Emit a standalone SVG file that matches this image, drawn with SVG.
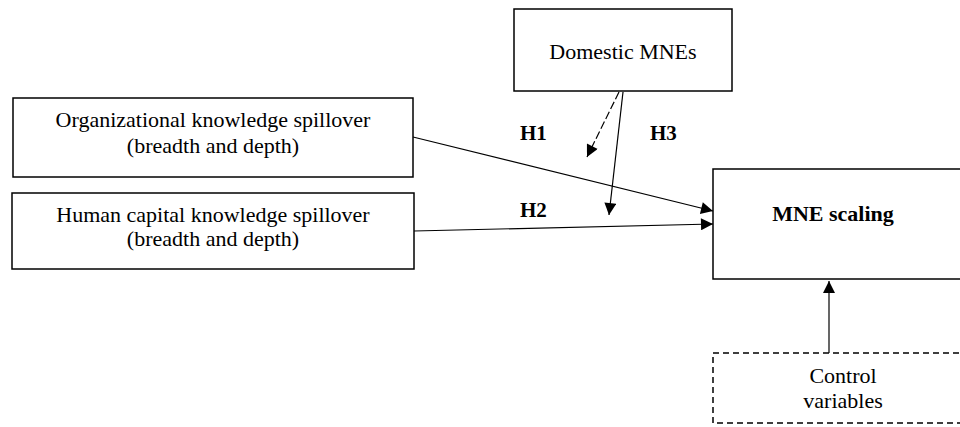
<svg xmlns="http://www.w3.org/2000/svg" width="960" height="427" viewBox="0 0 960 427">
<style>
.box{fill:#fff;stroke:#000;stroke-width:1.5}
.dbox{fill:#fff;stroke:#000;stroke-width:1.5;stroke-dasharray:6,4}
.t{font-family:"Liberation Serif","Times New Roman",serif;font-size:22px;fill:#000;text-anchor:middle}
.b{font-weight:bold}
.h{font-family:"Liberation Serif","Times New Roman",serif;font-size:21px;font-weight:bold;fill:#000}
.c{stroke:#000;stroke-width:1.2;fill:none;marker-end:url(#ah)}
</style>
<defs>
<marker id="ah" viewBox="0 0 10 10" refX="10" refY="5" markerWidth="14" markerHeight="12" markerUnits="userSpaceOnUse" orient="auto">
<path d="M0,0 L10,5 L0,10 z" fill="#000"/>
</marker>
</defs>
<rect width="960" height="427" fill="#fff"/>
<g id="domestic">
<rect class="box" x="514" y="9" width="218" height="82"/>
<text class="t" x="623" y="59">Domestic MNEs</text>
</g>
<g id="org">
<rect class="box" x="13" y="98" width="400" height="79"/>
<text class="t" x="213" y="127">Organizational knowledge spillover</text>
<text class="t" x="213" y="153">(breadth and depth)</text>
</g>
<g id="human">
<rect class="box" x="12" y="193" width="402" height="76"/>
<text class="t" x="213" y="222">Human capital knowledge spillover</text>
<text class="t" x="213" y="246">(breadth and depth)</text>
</g>
<g id="scaling">
<rect class="box" x="713" y="169" width="260" height="110"/>
<text class="t b" x="833" y="221">MNE scaling</text>
</g>
<g id="control">
<rect class="dbox" x="713" y="353" width="260" height="70"/>
<text class="t" x="843" y="383">Control</text>
<text class="t" x="843" y="408">variables</text>
</g>
<g id="connectors">
<line class="c" x1="413" y1="137" x2="713" y2="211"/>
<line class="c" x1="414" y1="231" x2="713" y2="224"/>
<line class="c" x1="619" y1="92" x2="587" y2="157" stroke-dasharray="8,3"/>
<line class="c" x1="623" y1="92" x2="609" y2="215"/>
<line class="c" x1="829" y1="353" x2="829" y2="281"/>
</g>
<g id="labels">
<text class="h" x="520" y="140">H1</text>
<text class="h" x="650" y="140">H3</text>
<text class="h" x="520" y="217">H2</text>
</g>
</svg>
